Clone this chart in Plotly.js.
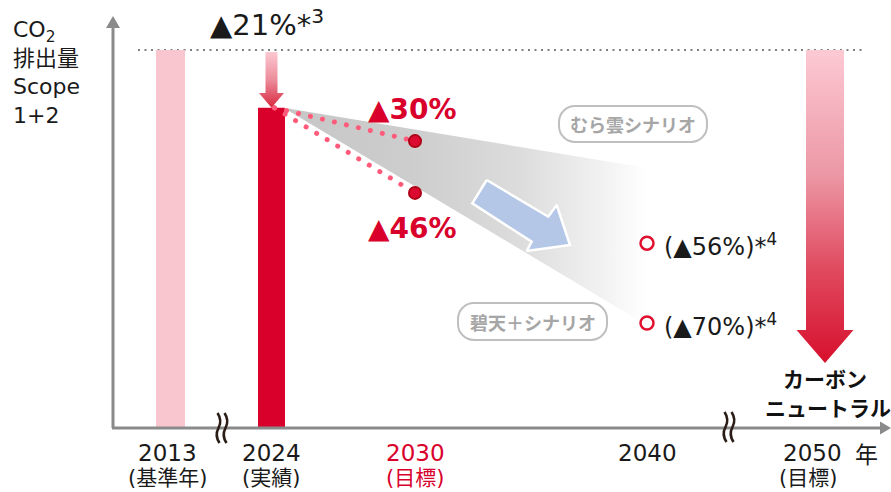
<!DOCTYPE html>
<html><head><meta charset="utf-8">
<script src="https://cdn.plot.ly/plotly-3.0.1.min.js"></script>
<style>html,body{margin:0;padding:0;background:#fff}#chart{width:891px;height:492px}</style>
</head><body><div id="chart"></div>
<script>
// ---------------- data (values as drawn, 2013 = 100) ----------------
const categories = ['2013', '2024', '2030', '2040', '2050'];
const categoryNotes = ['(基準年)', '(実績)', '(目標)', '', '(目標)'];
const barYears = ['2013', '2024'];
const barValues = [100, 84.7];
const reduction2024Label = '▲21%*<sup>3</sup>';
const target2030Labels = ['▲30%', '▲46%'];
const target2030Values = [75.9, 62.2];
const scenario2040Labels = ['(▲56%)*<sup>4</sup>', '(▲70%)*<sup>4</sup>'];
const scenario2040Values = [48.9, 27.8];
const fanTop = [84.7, 68.8];     // envelope 2024 -> 2040
const fanBottom = [84.7, 27.2];
const scenarioNames = ['むら雲シナリオ', '碧天＋シナリオ'];
const goal2050Label = ['カーボン', 'ニュートラル'];
const axisTitleLines = ['CO<sub>2</sub>', '排出量', 'Scope', '1+2'];
const unitLabel = '年';

// ---------------- layout helpers ----------------
const PX_PER_UNIT = 3.78, BASE_PY = 428;
const Y = py => (BASE_PY - py) / PX_PER_UNIT;       // pixel row -> value
const slotX = {'2013': 170.5, '2024': 271.5, '2030': 415, '2040': 647, '2050': 825};
const labelX = {'2013': 167, '2024': 271, '2030': 415, '2040': 647, '2050': 812};
const noteX = {'2013': 167, '2024': 271, '2030': 415, '2040': 647, '2050': 808};
const barWidths = [29, 27];
const FONT = "'DejaVu Sans', 'Noto Sans CJK JP', sans-serif";
const JP = "'Noto Sans CJK JP', 'DejaVu Sans', sans-serif";
const RED = '#d9002c', DOT = '#ff5a7a', TXT = '#1a1a1a';
const path = pts => pts.map((p, i) => (i ? 'L' : 'M') + p[0] + ',' + Y(p[1])).join(' ') + ' Z';

const traces = [];
// bars
traces.push({type: 'bar', x: barYears.map(c => slotX[c]), y: barValues, width: barWidths,
  marker: {color: ['#f9c6d0', RED], line: {width: 0}}, hoverinfo: 'skip'});
// fan wedge (gradient)
const x24 = slotX['2024'] + 12, x40 = slotX['2040'];
traces.push({type: 'scatter', mode: 'lines', x: [x24, x40, x40, x24], y: [fanTop[0], fanTop[1], fanBottom[1], fanBottom[0]],
  fill: 'toself', line: {width: 0, color: 'rgba(0,0,0,0)'},
  fillgradient: {type: 'horizontal', start: x24, stop: x40,
    colorscale: [[0, '#c6c6c6'], [0.35, '#cdcdcd'], [0.65, '#dcdcdc'], [0.88, '#f2f2f2'], [1, '#ffffff']]},
  hoverinfo: 'skip'});
// blue trend arrow (decoration)
const blue = [[486.7, 180], [548.3, 216.7], [556.7, 205], [570, 245], [526.7, 251], [531.7, 241.7], [472.3, 203.3], [486.7, 180]];
traces.push({type: 'scatter', mode: 'lines', x: blue.map(p => p[0]), y: blue.map(p => Y(p[1])), fill: 'toself',
  fillcolor: '#b4c7e7', line: {color: '#ffffff', width: 2.5}, hoverinfo: 'skip'});
// dotted paths 2024 -> 2030
target2030Values.forEach(v => {
  traces.push({type: 'scatter', mode: 'lines', x: [slotX['2024'] + 3, slotX['2030']], y: [barValues[1], v],
    line: {color: DOT, width: 5, dash: '4px,8px'}, hoverinfo: 'skip'});
});
// 2030 targets
traces.push({type: 'scatter', mode: 'markers', x: target2030Values.map(() => slotX['2030']), y: target2030Values,
  marker: {size: 12, color: '#dc0a30', line: {color: '#b00016', width: 2}}, hoverinfo: 'skip'});
// 2040 scenarios
traces.push({type: 'scatter', mode: 'markers', x: scenario2040Values.map(() => slotX['2040']), y: scenario2040Values,
  marker: {size: 13, color: '#ffffff', line: {color: '#e0102f', width: 2.5}}, hoverinfo: 'skip'});
// 2024 reduction arrow
(function () {
  const c = slotX['2024'];
  const pts = [[c - 6, 52], [c + 6, 52], [c + 6, 93], [c + 12.5, 93], [c, 107], [c - 12.5, 93], [c - 6, 93]];
  traces.push({type: 'scatter', mode: 'lines', x: pts.map(p => p[0]), y: [Y(52), Y(52), Y(93), Y(93), barValues[1], Y(93), Y(93)],
    fill: 'toself', line: {width: 0, color: 'rgba(0,0,0,0)'},
    fillgradient: {type: 'vertical', start: barValues[1], stop: Y(52), colorscale: [[0, '#d8283f'], [0.5, '#ec8c9a'], [1, '#fcc8d2']]},
    hoverinfo: 'skip'});
})();
// 2050 carbon-neutral arrow
(function () {
  const c = slotX['2050'];
  const xs = [c - 19, c + 19, c + 19, c + 28.5, c, c - 28.5, c - 19];
  const ys = [barValues[0], barValues[0], Y(330), Y(330), Y(363), Y(330), Y(330)];
  traces.push({type: 'scatter', mode: 'lines', x: xs, y: ys, fill: 'toself', line: {width: 0, color: 'rgba(0,0,0,0)'},
    fillgradient: {type: 'vertical', start: Y(363), stop: barValues[0],
      colorscale: [[0, '#d7102d'], [0.3, '#e04a5f'], [0.6, '#ec97a5'], [1, '#fcc9d3']]},
    hoverinfo: 'skip'});
})();

// ---------------- shapes ----------------
const AX = '#8a8a8a';
const shapes = [
  {type: 'line', layer: 'below', x0: 138, x1: 862, y0: barValues[0], y1: barValues[0], line: {color: '#808080', width: 2, dash: '2px,4.5px'}},
  {type: 'line', x0: 113, x1: 113, y0: 0, y1: Y(27), line: {color: AX, width: 3}},
  {type: 'path', path: path([[106, 28], [120, 28], [113, 16]]), fillcolor: AX, line: {width: 0}},
  {type: 'line', x0: 112, x1: 881, y0: 0, y1: 0, line: {color: AX, width: 3}},
  {type: 'path', path: path([[880, 421.5], [880, 434.5], [891, 428]]), fillcolor: AX, line: {width: 0}},
];
// axis break marks
function squiggle(x, top, bot) {
  const m = (top + bot) / 2, q1 = top + (bot - top) * 0.25, q3 = top + (bot - top) * 0.75;
  return 'M' + (x - 1) + ',' + Y(top) + ' Q' + (x + 4) + ',' + Y(q1) + ' ' + x + ',' + Y(m) +
         ' Q' + (x - 4) + ',' + Y(q3) + ' ' + (x + 1) + ',' + Y(bot);
}
[[218.5, 413, 443], [225.5, 413, 443], [725.5, 412, 442], [732.5, 412, 442]].forEach(s => {
  shapes.push({type: 'path', path: squiggle(s[0], s[1], s[2]), line: {color: '#2b1d16', width: 2.6}});
});
// scenario pills
function pill(x0, x1, y0, y1) {
  const r = 16, k = 0.5523 * r;
  const P = (x, y) => x + ',' + Y(y);
  return 'M' + P(x0 + r, y0) + ' L' + P(x1 - r, y0) +
    ' C' + P(x1 - r + k, y0) + ' ' + P(x1, y0 + r - k) + ' ' + P(x1, y0 + r) +
    ' L' + P(x1, y1 - r) + ' C' + P(x1, y1 - r + k) + ' ' + P(x1 - r + k, y1) + ' ' + P(x1 - r, y1) +
    ' L' + P(x0 + r, y1) + ' C' + P(x0 + r - k, y1) + ' ' + P(x0, y1 - r + k) + ' ' + P(x0, y1 - r) +
    ' L' + P(x0, y0 + r) + ' C' + P(x0, y0 + r - k) + ' ' + P(x0 + r - k, y0) + ' ' + P(x0 + r, y0) + ' Z';
}
const pills = [[559, 707, 106, 142], [458, 607, 303, 340]];
pills.forEach(b => shapes.push({type: 'path', path: pill(b[0], b[1], b[2], b[3]), fillcolor: '#ffffff', line: {color: '#bfbfbf', width: 2}}));

// ---------------- annotations ----------------
const ann = [];
const A = (text, x, py, o) => ann.push(Object.assign({text: text, x: x, y: Y(py), showarrow: false, xanchor: 'center', yanchor: 'middle',
  font: {family: FONT, size: 22, color: TXT}}, o || {}));
A(axisTitleLines.join('<br>'), 11, 72, {xanchor: 'left', align: 'left'});
A(reduction2024Label, 208, 23, {xanchor: 'left', font: {family: FONT, size: 29, color: TXT}});
A('<b>' + target2030Labels[0] + '</b>', 366, 109, {xanchor: 'left', font: {family: FONT, size: 28, color: RED}});
A('<b>' + target2030Labels[1] + '</b>', 366, 228, {xanchor: 'left', font: {family: FONT, size: 28, color: RED}});
A(scenario2040Labels[0], 662, 245, {xanchor: 'left', font: {family: FONT, size: 24, color: TXT}});
A(scenario2040Labels[1], 662, 325, {xanchor: 'left', font: {family: FONT, size: 24, color: TXT}});
A('<b>' + scenarioNames[0] + '</b>', 633, 124, {font: {family: JP, size: 18, color: '#a6a6a6'}});
A('<b>' + scenarioNames[1] + '</b>', 532.5, 322, {font: {family: JP, size: 18, color: '#a6a6a6'}});
A('<b>' + goal2050Label[0] + '</b>', 825, 378, {font: {family: JP, size: 21, color: '#111111'}});
A('<b>' + goal2050Label[1] + '</b>', 828, 407, {font: {family: JP, size: 21, color: '#111111'}});
categories.forEach((c, i) => {
  const col = c === '2030' ? RED : TXT;
  A(c, labelX[c], 453, {font: {family: FONT, size: 23, color: col}});
  if (categoryNotes[i]) A(categoryNotes[i], noteX[c], 478, {font: {family: FONT, size: 21, color: col}});
});
A(unitLabel, 866, 453, {font: {family: JP, size: 23, color: TXT}});

const layout = {
  width: 891, height: 492, margin: {l: 0, r: 0, t: 0, b: 0},
  paper_bgcolor: '#ffffff', plot_bgcolor: '#ffffff', showlegend: false,
  xaxis: {range: [0, 891], visible: false, fixedrange: true},
  yaxis: {range: [Y(492), Y(0)], visible: false, fixedrange: true},
  barmode: 'overlay', shapes: shapes, annotations: ann
};
Plotly.newPlot('chart', traces, layout, {displayModeBar: false, staticPlot: true}).then(() => {
  document.querySelectorAll('.scatterlayer path.js-line').forEach(p => {
    const s = p.style.stroke || p.getAttribute('stroke') || '';
    if (s.indexOf('255, 90, 122') >= 0 || s.toLowerCase() === DOT) {
      p.style.strokeLinecap = 'round';
      p.style.strokeDasharray = '0.01px,12.3px';
    }
  });
});
</script></body></html>
